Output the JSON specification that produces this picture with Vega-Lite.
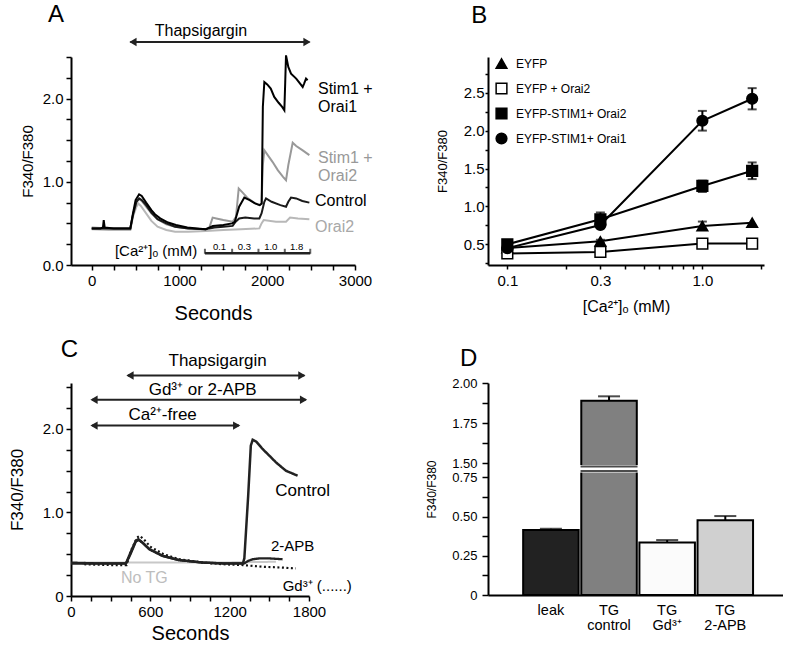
{
  "$schema": "https://vega.github.io/schema/vega-lite/v6.json",
  "padding": {"left": 8, "top": 3, "right": 0, "bottom": 0},
  "config": {
    "font": "Liberation Sans",
    "view": {"stroke": null},
    "axis": {"domainColor": "black", "domainWidth": 2, "tickColor": "black", "tickWidth": 1.5, "tickSize": 5, "tickCount": 100, "labelColor": "black", "labelFont": "Liberation Sans", "titleFont": "Liberation Sans", "titleColor": "black", "titleFontWeight": "normal", "grid": false, "labelFlush": false, "labelOverlap": false, "labelBound": false},
    "text": {"font": "Liberation Sans", "color": "black"},
    "title": {"font": "Liberation Sans", "fontWeight": "normal", "color": "black"}
  },
  "resolve": {"scale": {"color": "independent", "fill": "independent", "stroke": "independent", "shape": "independent", "strokeDash": "independent", "strokeWidth": "independent"}, "legend": {"color": "independent", "fill": "independent", "stroke": "independent", "shape": "independent", "strokeDash": "independent", "strokeWidth": "independent"}},
  "datasets": {
    "traceA": [
      {"series": "Orai2", "t": 0, "ratio": 0.43}, {"series": "Orai2", "t": 200, "ratio": 0.42}, {"series": "Orai2", "t": 440, "ratio": 0.42}, {"series": "Orai2", "t": 470, "ratio": 0.58}, {"series": "Orai2", "t": 510, "ratio": 0.70}, {"series": "Orai2", "t": 530, "ratio": 0.74}, {"series": "Orai2", "t": 560, "ratio": 0.71}, {"series": "Orai2", "t": 620, "ratio": 0.62}, {"series": "Orai2", "t": 680, "ratio": 0.53}, {"series": "Orai2", "t": 750, "ratio": 0.46}, {"series": "Orai2", "t": 850, "ratio": 0.42}, {"series": "Orai2", "t": 950, "ratio": 0.40}, {"series": "Orai2", "t": 1100, "ratio": 0.40}, {"series": "Orai2", "t": 1300, "ratio": 0.41}, {"series": "Orai2", "t": 1500, "ratio": 0.42}, {"series": "Orai2", "t": 1700, "ratio": 0.43}, {"series": "Orai2", "t": 1910, "ratio": 0.44}, {"series": "Orai2", "t": 1935, "ratio": 0.50}, {"series": "Orai2", "t": 1960, "ratio": 0.54}, {"series": "Orai2", "t": 2100, "ratio": 0.52}, {"series": "Orai2", "t": 2214, "ratio": 0.52}, {"series": "Orai2", "t": 2260, "ratio": 0.57}, {"series": "Orai2", "t": 2350, "ratio": 0.56}, {"series": "Orai2", "t": 2480, "ratio": 0.55},
      {"series": "Stim1 + Orai2", "t": 0, "ratio": 0.45}, {"series": "Stim1 + Orai2", "t": 200, "ratio": 0.44}, {"series": "Stim1 + Orai2", "t": 440, "ratio": 0.44}, {"series": "Stim1 + Orai2", "t": 470, "ratio": 0.60}, {"series": "Stim1 + Orai2", "t": 510, "ratio": 0.76}, {"series": "Stim1 + Orai2", "t": 540, "ratio": 0.79}, {"series": "Stim1 + Orai2", "t": 570, "ratio": 0.77}, {"series": "Stim1 + Orai2", "t": 620, "ratio": 0.70}, {"series": "Stim1 + Orai2", "t": 680, "ratio": 0.62}, {"series": "Stim1 + Orai2", "t": 750, "ratio": 0.55}, {"series": "Stim1 + Orai2", "t": 850, "ratio": 0.49}, {"series": "Stim1 + Orai2", "t": 950, "ratio": 0.46}, {"series": "Stim1 + Orai2", "t": 1100, "ratio": 0.44}, {"series": "Stim1 + Orai2", "t": 1300, "ratio": 0.43}, {"series": "Stim1 + Orai2", "t": 1340, "ratio": 0.45}, {"series": "Stim1 + Orai2", "t": 1378, "ratio": 0.57}, {"series": "Stim1 + Orai2", "t": 1420, "ratio": 0.56}, {"series": "Stim1 + Orai2", "t": 1500, "ratio": 0.54}, {"series": "Stim1 + Orai2", "t": 1606, "ratio": 0.52}, {"series": "Stim1 + Orai2", "t": 1644, "ratio": 0.58}, {"series": "Stim1 + Orai2", "t": 1675, "ratio": 0.92}, {"series": "Stim1 + Orai2", "t": 1720, "ratio": 0.87}, {"series": "Stim1 + Orai2", "t": 1780, "ratio": 0.80}, {"series": "Stim1 + Orai2", "t": 1850, "ratio": 0.75}, {"series": "Stim1 + Orai2", "t": 1910, "ratio": 0.72}, {"series": "Stim1 + Orai2", "t": 1935, "ratio": 0.74}, {"series": "Stim1 + Orai2", "t": 1950, "ratio": 1.20}, {"series": "Stim1 + Orai2", "t": 1967, "ratio": 1.38}, {"series": "Stim1 + Orai2", "t": 2000, "ratio": 1.33}, {"series": "Stim1 + Orai2", "t": 2060, "ratio": 1.24}, {"series": "Stim1 + Orai2", "t": 2120, "ratio": 1.14}, {"series": "Stim1 + Orai2", "t": 2180, "ratio": 1.06}, {"series": "Stim1 + Orai2", "t": 2214, "ratio": 1.02}, {"series": "Stim1 + Orai2", "t": 2240, "ratio": 1.20}, {"series": "Stim1 + Orai2", "t": 2290, "ratio": 1.47}, {"series": "Stim1 + Orai2", "t": 2330, "ratio": 1.43}, {"series": "Stim1 + Orai2", "t": 2400, "ratio": 1.38}, {"series": "Stim1 + Orai2", "t": 2480, "ratio": 1.32},
      {"series": "Control", "t": 0, "ratio": 0.44}, {"series": "Control", "t": 200, "ratio": 0.44}, {"series": "Control", "t": 440, "ratio": 0.44}, {"series": "Control", "t": 470, "ratio": 0.60}, {"series": "Control", "t": 510, "ratio": 0.76}, {"series": "Control", "t": 540, "ratio": 0.80}, {"series": "Control", "t": 570, "ratio": 0.78}, {"series": "Control", "t": 620, "ratio": 0.72}, {"series": "Control", "t": 680, "ratio": 0.63}, {"series": "Control", "t": 750, "ratio": 0.55}, {"series": "Control", "t": 850, "ratio": 0.50}, {"series": "Control", "t": 950, "ratio": 0.46}, {"series": "Control", "t": 1100, "ratio": 0.44}, {"series": "Control", "t": 1300, "ratio": 0.43}, {"series": "Control", "t": 1340, "ratio": 0.44}, {"series": "Control", "t": 1400, "ratio": 0.45}, {"series": "Control", "t": 1500, "ratio": 0.46}, {"series": "Control", "t": 1606, "ratio": 0.47}, {"series": "Control", "t": 1640, "ratio": 0.52}, {"series": "Control", "t": 1680, "ratio": 0.56}, {"series": "Control", "t": 1750, "ratio": 0.57}, {"series": "Control", "t": 1850, "ratio": 0.56}, {"series": "Control", "t": 1910, "ratio": 0.56}, {"series": "Control", "t": 1935, "ratio": 0.62}, {"series": "Control", "t": 1967, "ratio": 0.76}, {"series": "Control", "t": 1986, "ratio": 0.80}, {"series": "Control", "t": 2050, "ratio": 0.76}, {"series": "Control", "t": 2150, "ratio": 0.72}, {"series": "Control", "t": 2214, "ratio": 0.70}, {"series": "Control", "t": 2240, "ratio": 0.76}, {"series": "Control", "t": 2271, "ratio": 0.81}, {"series": "Control", "t": 2330, "ratio": 0.80}, {"series": "Control", "t": 2400, "ratio": 0.77}, {"series": "Control", "t": 2480, "ratio": 0.75},
      {"series": "Stim1 + Orai1", "t": 0, "ratio": 0.44}, {"series": "Stim1 + Orai1", "t": 100, "ratio": 0.44}, {"series": "Stim1 + Orai1", "t": 128, "ratio": 0.45}, {"series": "Stim1 + Orai1", "t": 137, "ratio": 0.54}, {"series": "Stim1 + Orai1", "t": 148, "ratio": 0.45}, {"series": "Stim1 + Orai1", "t": 250, "ratio": 0.44}, {"series": "Stim1 + Orai1", "t": 350, "ratio": 0.44}, {"series": "Stim1 + Orai1", "t": 440, "ratio": 0.44}, {"series": "Stim1 + Orai1", "t": 470, "ratio": 0.62}, {"series": "Stim1 + Orai1", "t": 500, "ratio": 0.78}, {"series": "Stim1 + Orai1", "t": 540, "ratio": 0.85}, {"series": "Stim1 + Orai1", "t": 570, "ratio": 0.83}, {"series": "Stim1 + Orai1", "t": 620, "ratio": 0.75}, {"series": "Stim1 + Orai1", "t": 680, "ratio": 0.66}, {"series": "Stim1 + Orai1", "t": 720, "ratio": 0.61}, {"series": "Stim1 + Orai1", "t": 780, "ratio": 0.56}, {"series": "Stim1 + Orai1", "t": 870, "ratio": 0.51}, {"series": "Stim1 + Orai1", "t": 960, "ratio": 0.48}, {"series": "Stim1 + Orai1", "t": 1090, "ratio": 0.45}, {"series": "Stim1 + Orai1", "t": 1200, "ratio": 0.44}, {"series": "Stim1 + Orai1", "t": 1300, "ratio": 0.43}, {"series": "Stim1 + Orai1", "t": 1340, "ratio": 0.45}, {"series": "Stim1 + Orai1", "t": 1380, "ratio": 0.47}, {"series": "Stim1 + Orai1", "t": 1500, "ratio": 0.48}, {"series": "Stim1 + Orai1", "t": 1600, "ratio": 0.50}, {"series": "Stim1 + Orai1", "t": 1630, "ratio": 0.52}, {"series": "Stim1 + Orai1", "t": 1680, "ratio": 0.70}, {"series": "Stim1 + Orai1", "t": 1739, "ratio": 0.81}, {"series": "Stim1 + Orai1", "t": 1800, "ratio": 0.78}, {"series": "Stim1 + Orai1", "t": 1860, "ratio": 0.74}, {"series": "Stim1 + Orai1", "t": 1915, "ratio": 0.72}, {"series": "Stim1 + Orai1", "t": 1937, "ratio": 0.74}, {"series": "Stim1 + Orai1", "t": 1950, "ratio": 1.90}, {"series": "Stim1 + Orai1", "t": 1967, "ratio": 2.20}, {"series": "Stim1 + Orai1", "t": 2000, "ratio": 2.17}, {"series": "Stim1 + Orai1", "t": 2040, "ratio": 2.12}, {"series": "Stim1 + Orai1", "t": 2080, "ratio": 2.02}, {"series": "Stim1 + Orai1", "t": 2130, "ratio": 1.95}, {"series": "Stim1 + Orai1", "t": 2170, "ratio": 1.90}, {"series": "Stim1 + Orai1", "t": 2195, "ratio": 1.86}, {"series": "Stim1 + Orai1", "t": 2205, "ratio": 2.20}, {"series": "Stim1 + Orai1", "t": 2214, "ratio": 2.52}, {"series": "Stim1 + Orai1", "t": 2240, "ratio": 2.38}, {"series": "Stim1 + Orai1", "t": 2271, "ratio": 2.30}, {"series": "Stim1 + Orai1", "t": 2330, "ratio": 2.24}, {"series": "Stim1 + Orai1", "t": 2404, "ratio": 2.14}, {"series": "Stim1 + Orai1", "t": 2420, "ratio": 2.18}, {"series": "Stim1 + Orai1", "t": 2442, "ratio": 2.24}, {"series": "Stim1 + Orai1", "t": 2460, "ratio": 2.22}
    ],
    "caTicks": [{"t": 1290}, {"t": 1600}, {"t": 1900}, {"t": 2200}, {"t": 2490}],
    "caPeriods": [{"mid": 1456, "conc": "0.1"}, {"mid": 1740, "conc": "0.3"}, {"mid": 2040, "conc": "1.0"}, {"mid": 2335, "conc": "1.8"}],
    "dosesB": [
      {"series": "EYFP", "conc": 0.1, "mean": 0.45, "lo": 0.45, "hi": 0.45}, {"series": "EYFP", "conc": 0.3, "mean": 0.54, "lo": 0.52, "hi": 0.56}, {"series": "EYFP", "conc": 1.0, "mean": 0.74, "lo": 0.69, "hi": 0.80}, {"series": "EYFP", "conc": 1.8, "mean": 0.785, "lo": 0.785, "hi": 0.785},
      {"series": "EYFP + Orai2", "conc": 0.1, "mean": 0.38, "lo": 0.38, "hi": 0.38}, {"series": "EYFP + Orai2", "conc": 0.3, "mean": 0.40, "lo": 0.40, "hi": 0.40}, {"series": "EYFP + Orai2", "conc": 1.0, "mean": 0.51, "lo": 0.51, "hi": 0.51}, {"series": "EYFP + Orai2", "conc": 1.8, "mean": 0.51, "lo": 0.51, "hi": 0.51},
      {"series": "EYFP-STIM1+ Orai2", "conc": 0.1, "mean": 0.50, "lo": 0.50, "hi": 0.50}, {"series": "EYFP-STIM1+ Orai2", "conc": 0.3, "mean": 0.83, "lo": 0.75, "hi": 0.92}, {"series": "EYFP-STIM1+ Orai2", "conc": 1.0, "mean": 1.27, "lo": 1.19, "hi": 1.34}, {"series": "EYFP-STIM1+ Orai2", "conc": 1.8, "mean": 1.47, "lo": 1.36, "hi": 1.58},
      {"series": "EYFP-STIM1+ Orai1", "conc": 0.1, "mean": 0.45, "lo": 0.45, "hi": 0.45}, {"series": "EYFP-STIM1+ Orai1", "conc": 0.3, "mean": 0.755, "lo": 0.73, "hi": 0.78}, {"series": "EYFP-STIM1+ Orai1", "conc": 1.0, "mean": 2.13, "lo": 2.0, "hi": 2.26}, {"series": "EYFP-STIM1+ Orai1", "conc": 1.8, "mean": 2.42, "lo": 2.28, "hi": 2.56}
    ],
    "traceC": [
      {"series": "No TG", "t": 100, "ratio": 0.40}, {"series": "No TG", "t": 600, "ratio": 0.40}, {"series": "No TG", "t": 1100, "ratio": 0.40}, {"series": "No TG", "t": 1550, "ratio": 0.41},
      {"series": "Gd3+", "t": 100, "ratio": 0.38}, {"series": "Gd3+", "t": 300, "ratio": 0.37}, {"series": "Gd3+", "t": 420, "ratio": 0.37}, {"series": "Gd3+", "t": 455, "ratio": 0.55}, {"series": "Gd3+", "t": 500, "ratio": 0.70}, {"series": "Gd3+", "t": 520, "ratio": 0.72}, {"series": "Gd3+", "t": 550, "ratio": 0.68}, {"series": "Gd3+", "t": 600, "ratio": 0.59}, {"series": "Gd3+", "t": 700, "ratio": 0.50}, {"series": "Gd3+", "t": 820, "ratio": 0.44}, {"series": "Gd3+", "t": 1000, "ratio": 0.40}, {"series": "Gd3+", "t": 1150, "ratio": 0.38}, {"series": "Gd3+", "t": 1300, "ratio": 0.37}, {"series": "Gd3+", "t": 1450, "ratio": 0.35}, {"series": "Gd3+", "t": 1600, "ratio": 0.34}, {"series": "Gd3+", "t": 1700, "ratio": 0.33},
      {"series": "2-APB", "t": 0, "ratio": 0.40}, {"series": "2-APB", "t": 200, "ratio": 0.39}, {"series": "2-APB", "t": 416, "ratio": 0.39}, {"series": "2-APB", "t": 450, "ratio": 0.50}, {"series": "2-APB", "t": 490, "ratio": 0.65}, {"series": "2-APB", "t": 510, "ratio": 0.67}, {"series": "2-APB", "t": 540, "ratio": 0.64}, {"series": "2-APB", "t": 593, "ratio": 0.56}, {"series": "2-APB", "t": 693, "ratio": 0.48}, {"series": "2-APB", "t": 819, "ratio": 0.43}, {"series": "2-APB", "t": 996, "ratio": 0.40}, {"series": "2-APB", "t": 1150, "ratio": 0.39}, {"series": "2-APB", "t": 1311, "ratio": 0.39}, {"series": "2-APB", "t": 1340, "ratio": 0.42}, {"series": "2-APB", "t": 1374, "ratio": 0.44}, {"series": "2-APB", "t": 1424, "ratio": 0.45}, {"series": "2-APB", "t": 1500, "ratio": 0.45}, {"series": "2-APB", "t": 1600, "ratio": 0.44},
      {"series": "Control", "t": 0, "ratio": 0.39}, {"series": "Control", "t": 200, "ratio": 0.39}, {"series": "Control", "t": 416, "ratio": 0.39}, {"series": "Control", "t": 450, "ratio": 0.52}, {"series": "Control", "t": 490, "ratio": 0.66}, {"series": "Control", "t": 510, "ratio": 0.68}, {"series": "Control", "t": 540, "ratio": 0.64}, {"series": "Control", "t": 593, "ratio": 0.56}, {"series": "Control", "t": 693, "ratio": 0.48}, {"series": "Control", "t": 819, "ratio": 0.43}, {"series": "Control", "t": 996, "ratio": 0.40}, {"series": "Control", "t": 1150, "ratio": 0.39}, {"series": "Control", "t": 1300, "ratio": 0.39}, {"series": "Control", "t": 1311, "ratio": 0.45}, {"series": "Control", "t": 1340, "ratio": 1.20}, {"series": "Control", "t": 1360, "ratio": 1.80}, {"series": "Control", "t": 1374, "ratio": 1.87}, {"series": "Control", "t": 1400, "ratio": 1.85}, {"series": "Control", "t": 1449, "ratio": 1.76}, {"series": "Control", "t": 1500, "ratio": 1.68}, {"series": "Control", "t": 1550, "ratio": 1.60}, {"series": "Control", "t": 1625, "ratio": 1.50}, {"series": "Control", "t": 1714, "ratio": 1.44}
    ],
    "barsD": [
      {"cat": "leak", "value": 0.414, "hi": 0.422},
      {"cat": "TG control", "value": 1.89, "hi": 1.917},
      {"cat": "TG Gd³⁺", "value": 0.335, "hi": 0.35},
      {"cat": "TG 2-APB", "value": 0.477, "hi": 0.503}
    ]
  },
  "spacing": 52,
  "hconcat": [
    {
      "resolve": {"scale": {"color": "independent", "strokeDash": "independent", "strokeWidth": "independent"}, "legend": {"color": "independent", "strokeDash": "independent", "strokeWidth": "independent"}},
      "vconcat": [
        {
          "width": 284, "height": 208,
          "layer": [
            {
              "data": {"name": "traceA"},
              "mark": {"type": "line", "strokeWidth": 2},
              "encoding": {
                "x": {"field": "t", "type": "quantitative", "scale": {"domain": [-236, 3000], "nice": false, "zero": false},
                  "axis": {"values": [0, 250, 500, 750, 1000, 1250, 1500, 1750, 2000, 2250, 2500, 2750, 3000], "labelExpr": "datum.value % 1000 == 0 ? format(datum.value, 'd') : ''", "title": "Seconds", "titleFontSize": 20, "titlePadding": 15, "labelFontSize": 15, "labelPadding": 3}},
                "y": {"field": "ratio", "type": "quantitative", "scale": {"domain": [0, 2.5], "nice": false},
                  "axis": {"values": [0, 0.25, 0.5, 0.75, 1, 1.25, 1.5, 1.75, 2, 2.25, 2.5], "labelExpr": "datum.value % 1 == 0 ? format(datum.value, '.1f') : ''", "title": "F340/F380", "titleFontSize": 15, "titlePadding": 7, "labelFontSize": 15, "labelPadding": 3}},
                "color": {"field": "series", "type": "nominal", "scale": {"domain": ["Orai2", "Stim1 + Orai2", "Control", "Stim1 + Orai1"], "range": ["#b8b8b8", "#999999", "#1a1a1a", "#000000"]}, "legend": null}
              }
            },
            {"data": {"values": [{}]}, "mark": {"type": "rule", "strokeWidth": 2.5, "color": "#222"}, "encoding": {"x": {"datum": 1290}, "x2": {"datum": 2490}, "y": {"datum": 0.14}}},
            {"data": {"name": "caTicks"}, "mark": {"type": "tick", "orient": "vertical", "size": 5, "thickness": 2, "color": "#222"}, "encoding": {"x": {"field": "t", "type": "quantitative"}, "y": {"datum": 0.165}}},
            {"data": {"name": "caPeriods"}, "mark": {"type": "text", "fontSize": 9.5, "baseline": "middle"}, "encoding": {"x": {"field": "mid", "type": "quantitative"}, "y": {"datum": 0.22}, "text": {"field": "conc"}}},
            {"data": {"values": [{}]}, "mark": {"type": "text", "fontSize": 15, "baseline": "middle", "text": "[Ca²⁺]ₒ (mM)"}, "encoding": {"x": {"datum": 733}, "y": {"datum": 0.165}}},
            {"data": {"values": [{}]}, "mark": {"type": "text", "fontSize": 16, "align": "left", "baseline": "middle", "lineBreak": "\n", "lineHeight": 18, "text": "Stim1 +\nOrai1", "color": "black"}, "encoding": {"x": {"datum": 2578}, "y": {"datum": 2.12}}},
            {"data": {"values": [{}]}, "mark": {"type": "text", "fontSize": 16, "align": "left", "baseline": "middle", "lineBreak": "\n", "lineHeight": 18, "text": "Stim1 +\nOrai2", "color": "#999999"}, "encoding": {"x": {"datum": 2578}, "y": {"datum": 1.29}}},
            {"data": {"values": [{}]}, "mark": {"type": "text", "fontSize": 16, "align": "left", "baseline": "middle", "text": "Control", "color": "black"}, "encoding": {"x": {"datum": 2545}, "y": {"datum": 0.77}}},
            {"data": {"values": [{}]}, "mark": {"type": "text", "fontSize": 16, "align": "left", "baseline": "middle", "text": "Orai2", "color": "#a8a8a8"}, "encoding": {"x": {"datum": 2545}, "y": {"datum": 0.46}}},
            {"data": {"values": [{}]}, "mark": {"type": "rule", "strokeWidth": 2, "color": "#222"}, "encoding": {"x": {"datum": 440}, "x2": {"datum": 2480}, "y": {"datum": 2.68}}},
            {"data": {"values": [{}]}, "mark": {"type": "point", "shape": "triangle-left", "filled": true, "size": 70, "color": "#222", "opacity": 1}, "encoding": {"x": {"datum": 470}, "y": {"datum": 2.68}}},
            {"data": {"values": [{}]}, "mark": {"type": "point", "shape": "triangle-right", "filled": true, "size": 70, "color": "#222", "opacity": 1}, "encoding": {"x": {"datum": 2453}, "y": {"datum": 2.68}}},
            {"data": {"values": [{}]}, "mark": {"type": "text", "fontSize": 16, "baseline": "middle", "text": "Thapsigargin"}, "encoding": {"x": {"datum": 1245}, "y": {"datum": 2.81}}},
            {"data": {"values": [{}]}, "mark": {"type": "text", "fontSize": 24, "baseline": "middle", "text": "A"}, "encoding": {"x": {"datum": -407}, "y": {"datum": 3.0}}}
          ]
        },
        {
          "width": 238, "height": 213,
          "layer": [
            {
              "data": {"name": "traceC"},
              "mark": {"type": "line"},
              "encoding": {
                "x": {"field": "t", "type": "quantitative", "scale": {"domain": [0, 1800], "nice": false, "zero": false},
                  "axis": {"values": [0, 150, 300, 450, 600, 750, 900, 1050, 1200, 1350, 1500, 1650, 1800], "labelExpr": "datum.value % 600 == 0 ? format(datum.value, 'd') : ''", "title": "Seconds", "titleFontSize": 20, "titlePadding": 4, "labelFontSize": 15, "labelPadding": 3}},
                "y": {"field": "ratio", "type": "quantitative", "scale": {"domain": [0, 2.55], "nice": false},
                  "axis": {"values": [0, 0.25, 0.5, 0.75, 1, 1.25, 1.5, 1.75, 2, 2.25, 2.5], "labelExpr": "datum.value == 0 ? '0' : (datum.value % 1 == 0 ? format(datum.value, '.1f') : '')", "title": "F340/F380", "titleFontSize": 17, "titlePadding": 16, "labelFontSize": 15, "labelPadding": 3}},
                "color": {"field": "series", "type": "nominal", "scale": {"domain": ["No TG", "Gd3+", "2-APB", "Control"], "range": ["#c8c8c8", "#111111", "#222222", "#222222"]}, "legend": null},
                "strokeDash": {"field": "series", "type": "nominal", "scale": {"domain": ["No TG", "Gd3+", "2-APB", "Control"], "range": [[1, 0], [2, 2.5], [1, 0], [1, 0]]}, "legend": null},
                "strokeWidth": {"field": "series", "type": "nominal", "scale": {"domain": ["No TG", "Gd3+", "2-APB", "Control"], "range": [2, 2.5, 2, 2.5]}, "legend": null}
              }
            },
            {"data": {"values": [{}]}, "mark": {"type": "rule", "strokeWidth": 2, "color": "#222"}, "encoding": {"x": {"datum": 430}, "x2": {"datum": 1765}, "y": {"datum": 2.64}}},
            {"data": {"values": [{}]}, "mark": {"type": "point", "shape": "triangle-left", "filled": true, "size": 70, "color": "#222", "opacity": 1}, "encoding": {"x": {"datum": 446}, "y": {"datum": 2.64}}},
            {"data": {"values": [{}]}, "mark": {"type": "point", "shape": "triangle-right", "filled": true, "size": 70, "color": "#222", "opacity": 1}, "encoding": {"x": {"datum": 1746}, "y": {"datum": 2.64}}},
            {"data": {"values": [{}]}, "mark": {"type": "text", "fontSize": 17, "baseline": "middle", "text": "Thapsigargin"}, "encoding": {"x": {"datum": 1109}, "y": {"datum": 2.81}}},
            {"data": {"values": [{}]}, "mark": {"type": "rule", "strokeWidth": 2, "color": "#222"}, "encoding": {"x": {"datum": 160}, "x2": {"datum": 1775}, "y": {"datum": 2.35}}},
            {"data": {"values": [{}]}, "mark": {"type": "point", "shape": "triangle-left", "filled": true, "size": 70, "color": "#222", "opacity": 1}, "encoding": {"x": {"datum": 174}, "y": {"datum": 2.35}}},
            {"data": {"values": [{}]}, "mark": {"type": "point", "shape": "triangle-right", "filled": true, "size": 70, "color": "#222", "opacity": 1}, "encoding": {"x": {"datum": 1759}, "y": {"datum": 2.35}}},
            {"data": {"values": [{}]}, "mark": {"type": "text", "fontSize": 17, "baseline": "middle", "text": "Gd³⁺ or 2-APB"}, "encoding": {"x": {"datum": 996}, "y": {"datum": 2.47}}},
            {"data": {"values": [{}]}, "mark": {"type": "rule", "strokeWidth": 2, "color": "#222"}, "encoding": {"x": {"datum": 160}, "x2": {"datum": 1270}, "y": {"datum": 2.04}}},
            {"data": {"values": [{}]}, "mark": {"type": "point", "shape": "triangle-left", "filled": true, "size": 70, "color": "#222", "opacity": 1}, "encoding": {"x": {"datum": 174}, "y": {"datum": 2.04}}},
            {"data": {"values": [{}]}, "mark": {"type": "point", "shape": "triangle-right", "filled": true, "size": 70, "color": "#222", "opacity": 1}, "encoding": {"x": {"datum": 1253}, "y": {"datum": 2.04}}},
            {"data": {"values": [{}]}, "mark": {"type": "text", "fontSize": 17, "baseline": "middle", "text": "Ca²⁺-free"}, "encoding": {"x": {"datum": 693}, "y": {"datum": 2.17}}},
            {"data": {"values": [{}]}, "mark": {"type": "text", "fontSize": 17, "baseline": "middle", "text": "Control"}, "encoding": {"x": {"datum": 1752}, "y": {"datum": 1.26}}},
            {"data": {"values": [{}]}, "mark": {"type": "text", "fontSize": 15, "baseline": "middle", "text": "2-APB"}, "encoding": {"x": {"datum": 1676}, "y": {"datum": 0.60}}},
            {"data": {"values": [{}]}, "mark": {"type": "text", "fontSize": 16, "baseline": "middle", "text": "No TG", "color": "#bdbdbd"}, "encoding": {"x": {"datum": 555}, "y": {"datum": 0.22}}},
            {"data": {"values": [{}]}, "mark": {"type": "text", "fontSize": 15, "align": "left", "baseline": "middle", "text": "Gd³⁺ (......)"}, "encoding": {"x": {"datum": 1601}, "y": {"datum": 0.12}}},
            {"data": {"values": [{}]}, "mark": {"type": "text", "fontSize": 24, "baseline": "middle", "text": "C"}, "encoding": {"x": {"datum": -12}, "y": {"datum": 2.945}}}
          ]
        }
      ],
      "spacing": 118,
      "bounds": "flush"
    },
    {
      "resolve": {"scale": {"fill": "independent", "stroke": "independent", "shape": "independent"}, "legend": {"fill": "independent", "stroke": "independent", "shape": "independent"}},
      "vconcat": [
        {
          "width": 276, "height": 208,
          "data": {"name": "dosesB"},
          "layer": [
            {
              "mark": {"type": "line", "color": "black", "strokeWidth": 2},
              "encoding": {
                "x": {"field": "conc", "type": "quantitative", "scale": {"type": "log", "domain": [0.0796, 2.07], "nice": false},
                  "axis": {"values": [0.1, 0.2, 0.3, 0.4, 0.5, 0.6, 0.7, 0.8, 0.9, 1, 2], "labelExpr": "indexof([0.1, 0.3, 1], datum.value) >= 0 ? format(datum.value, '.1f') : ''", "title": "[Ca²⁺]ₒ (mM)", "titleFontSize": 16, "titlePadding": 10, "labelFontSize": 15, "labelPadding": 4, "tickSize": 4}},
                "y": {"field": "mean", "type": "quantitative", "scale": {"domain": [0.227, 2.971], "nice": false, "zero": false},
                  "axis": {"values": [0.25, 0.5, 0.75, 1, 1.25, 1.5, 1.75, 2, 2.25, 2.5, 2.75], "labelExpr": "(datum.value * 2) % 1 == 0 ? format(datum.value, '.1f') : ''", "title": "F340/F380", "titleFontSize": 13, "titlePadding": 14, "labelFontSize": 15, "labelPadding": 1, "tickSize": 3}},
                "detail": {"field": "series"}
              }
            },
            {
              "transform": [{"filter": "datum.hi > datum.lo"}],
              "mark": {"type": "rule", "color": "black", "strokeWidth": 2},
              "encoding": {"x": {"field": "conc", "type": "quantitative"}, "y": {"field": "lo", "type": "quantitative"}, "y2": {"field": "hi"}}
            },
            {
              "transform": [{"filter": "datum.hi > datum.lo"}],
              "mark": {"type": "tick", "orient": "horizontal", "color": "black", "size": 9, "thickness": 2},
              "encoding": {"x": {"field": "conc", "type": "quantitative"}, "y": {"field": "hi", "type": "quantitative"}}
            },
            {
              "transform": [{"filter": "datum.hi > datum.lo"}],
              "mark": {"type": "tick", "orient": "horizontal", "color": "black", "size": 9, "thickness": 2},
              "encoding": {"x": {"field": "conc", "type": "quantitative"}, "y": {"field": "lo", "type": "quantitative"}}
            },
            {
              "mark": {"type": "point", "filled": true, "strokeWidth": 1.5, "size": 115, "opacity": 1},
              "encoding": {
                "x": {"field": "conc", "type": "quantitative"},
                "y": {"field": "mean", "type": "quantitative"},
                "shape": {"field": "series", "type": "nominal", "scale": {"domain": ["EYFP", "EYFP + Orai2", "EYFP-STIM1+ Orai2", "EYFP-STIM1+ Orai1"], "range": ["triangle-up", "square", "square", "circle"]},
                  "legend": {"orient": "none", "legendX": 7, "legendY": 0, "title": null, "labelFontSize": 12, "labelFont": "Liberation Sans", "labelColor": "black", "symbolSize": 115, "rowPadding": 8, "labelOffset": 8, "symbolStrokeWidth": 1.5, "padding": 0}},
                "fill": {"field": "series", "type": "nominal", "scale": {"domain": ["EYFP", "EYFP + Orai2", "EYFP-STIM1+ Orai2", "EYFP-STIM1+ Orai1"], "range": ["black", "white", "black", "black"]},
                  "legend": {"orient": "none", "legendX": 7, "legendY": 0, "title": null, "labelFontSize": 12, "labelFont": "Liberation Sans", "labelColor": "black", "symbolSize": 115, "rowPadding": 8, "labelOffset": 8, "symbolStrokeWidth": 1.5, "padding": 0}},
                "stroke": {"field": "series", "type": "nominal", "scale": {"domain": ["EYFP", "EYFP + Orai2", "EYFP-STIM1+ Orai2", "EYFP-STIM1+ Orai1"], "range": ["black", "black", "black", "black"]},
                  "legend": {"orient": "none", "legendX": 7, "legendY": 0, "title": null, "labelFontSize": 12, "labelFont": "Liberation Sans", "labelColor": "black", "symbolSize": 115, "rowPadding": 8, "labelOffset": 8, "symbolStrokeWidth": 1.5, "padding": 0}}
              }
            },
            {"data": {"values": [{}]}, "mark": {"type": "text", "fontSize": 24, "baseline": "middle", "text": "B"}, "encoding": {"x": {"datum": 0.0718}, "y": {"datum": 3.518}}}
          ]
        },
        {
          "width": 295, "height": 212,
          "title": {"text": "D", "anchor": "start", "frame": "group", "fontSize": 24, "fontWeight": "normal", "dx": -28, "offset": 6},
          "data": {"name": "barsD"},
          "layer": [
            {
              "mark": {"type": "bar", "stroke": "black", "strokeWidth": 2},
              "encoding": {
                "x": {"field": "cat", "type": "nominal", "sort": null, "scale": {"domain": ["leak", "TG control", "TG Gd³⁺", "TG 2-APB"], "paddingInner": 0.045, "paddingOuter": 0.56, "align": 0.54},
                  "axis": {"title": null, "ticks": false, "labelAngle": 0, "labelFontSize": 14.5, "labelLineHeight": 15, "labelPadding": 8, "labelExpr": "split(datum.label, ' ')"}},
                "y": {"field": "value", "type": "quantitative", "scale": {"domain": [0, 0.79, 1.48, 2.0], "range": [212, 88, 83.5, 0], "nice": false, "zero": false},
                  "axis": {"values": [0, 0.125, 0.25, 0.375, 0.5, 0.625, 0.75, 1.5, 1.625, 1.75, 1.875, 2.0], "labelExpr": "datum.value == 0 ? '0' : ((datum.value * 4) % 1 == 0 ? format(datum.value, '.2f') : '')", "title": "F340/F380", "titleFontSize": 12, "titlePadding": 13, "labelFontSize": 13, "labelPadding": 5, "tickSize": 6}},
                "fill": {"field": "cat", "type": "nominal", "scale": {"domain": ["leak", "TG control", "TG Gd³⁺", "TG 2-APB"], "range": ["#222222", "#808080", "#fbfbfb", "#d0d0d0"]}, "legend": null}
              }
            },
            {
              "mark": {"type": "rule", "color": "black", "strokeWidth": 2},
              "encoding": {"x": {"field": "cat", "type": "nominal"}, "y": {"field": "value", "type": "quantitative"}, "y2": {"field": "hi"}}
            },
            {
              "mark": {"type": "tick", "orient": "horizontal", "color": "black", "size": 22, "thickness": 2},
              "encoding": {"x": {"field": "cat", "type": "nominal"}, "y": {"field": "hi", "type": "quantitative"}}
            },
            {"data": {"values": [{}]}, "mark": {"type": "bar", "fill": "white", "stroke": "white", "strokeWidth": 3}, "encoding": {"x": {"datum": "TG control", "type": "nominal"}, "y": {"datum": 0.795}, "y2": {"datum": 1.475}}},
            {"data": {"values": [{}]}, "mark": {"type": "tick", "orient": "horizontal", "color": "black", "size": 57, "thickness": 2}, "encoding": {"x": {"datum": "TG control", "type": "nominal"}, "y": {"datum": 0.79}}},
            {"data": {"values": [{}]}, "mark": {"type": "tick", "orient": "horizontal", "color": "black", "size": 57, "thickness": 2}, "encoding": {"x": {"datum": "TG control", "type": "nominal"}, "y": {"datum": 1.48}}}
          ]
        }
      ],
      "spacing": 118,
      "bounds": "flush"
    }
  ]
}
